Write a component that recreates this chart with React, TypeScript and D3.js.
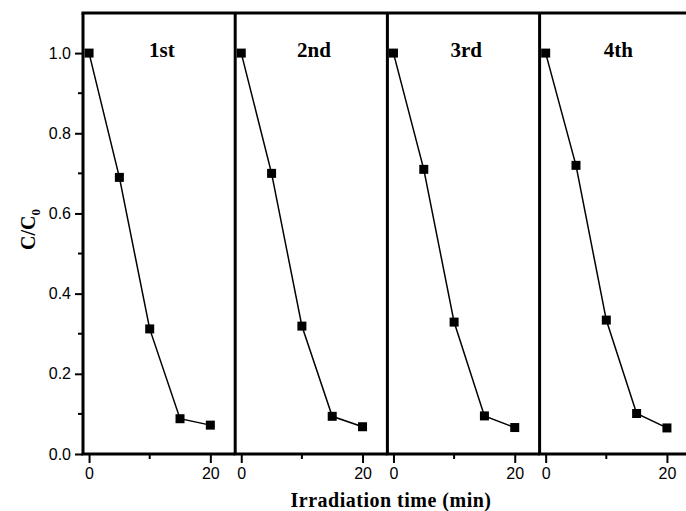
import React, { useEffect, useRef } from 'react';
import * as d3 from 'd3';

const times = [0, 5, 10, 15, 20];
const runLabels = ['1st', '2nd', '3rd', '4th'];
const run1 = [1.0, 0.69, 0.312, 0.088, 0.072];
const run2 = [1.0, 0.70, 0.319, 0.094, 0.068];
const run3 = [1.0, 0.71, 0.329, 0.095, 0.066];
const run4 = [1.0, 0.72, 0.334, 0.101, 0.065];
const runs = [run1, run2, run3, run4];
const yTicks = [0, 0.2, 0.4, 0.6, 0.8, 1.0];
const xTicks = [0, 20];

const App = () => {
  const ref = useRef<SVGSVGElement>(null);

  useEffect(() => {
    const width = 686;
    const height = 511;
    const margin = { top: 13, left: 83, bottom: 57 };
    const panelW = 152.2;
    const innerH = height - margin.top - margin.bottom;
    const sans = 'Liberation Sans, Arial, sans-serif';
    const serif = 'Liberation Serif, Times New Roman, serif';

    const svg = d3.select(ref.current);
    svg.selectAll('*').remove();

    const y = d3.scaleLinear().domain([0, 1.1]).range([margin.top + innerH, margin.top]);

    // left y axis
    const yAxis = svg.append('g')
      .attr('transform', `translate(${margin.left},0)`)
      .call(d3.axisLeft(y).tickValues(yTicks).tickFormat(d3.format('.1f')).tickSize(8).tickPadding(4));
    yAxis.select('.domain').remove();
    yAxis.selectAll('line').attr('stroke-width', 2);
    yAxis.selectAll('text')
      .attr('font-family', sans)
      .attr('font-size', 16)
      .attr('fill', '#000');
    // minor y ticks
    yAxis.selectAll('.minor')
      .data(d3.range(0.1, 1.1, 0.2))
      .enter().append('line')
      .attr('class', 'minor')
      .attr('x1', -5).attr('x2', 0)
      .attr('y1', d => y(d)).attr('y2', d => y(d))
      .attr('stroke', '#000').attr('stroke-width', 2);

    // top border
    svg.append('line')
      .attr('x1', margin.left - 1.5).attr('x2', width + 10)
      .attr('y1', y(1.1)).attr('y2', y(1.1))
      .attr('stroke', '#000').attr('stroke-width', 3);

    runs.forEach((vals, i) => {
      const x0 = margin.left + i * panelW;
      const x = d3.scaleLinear().domain([-1, 24.1]).range([x0, x0 + panelW]);
      const g = svg.append('g');

      // bottom axis
      const xAxis = g.append('g')
        .attr('transform', `translate(0,${y(0)})`)
        .call(d3.axisBottom(x).tickValues(xTicks).tickSize(9).tickPadding(5));
      xAxis.select('.domain').remove();
      xAxis.selectAll('line').attr('stroke-width', 2);
      xAxis.selectAll('text')
        .attr('font-family', sans)
        .attr('font-size', 16)
        .attr('fill', '#000');
      xAxis.append('line')
        .attr('x1', x(10)).attr('x2', x(10))
        .attr('y1', 0).attr('y2', 5)
        .attr('stroke', '#000').attr('stroke-width', 2);

      g.append('line')
        .attr('x1', x0 - 1.5).attr('x2', x0 + panelW)
        .attr('y1', y(0)).attr('y2', y(0))
        .attr('stroke', '#000').attr('stroke-width', 3);

      // panel left divider
      g.append('line')
        .attr('x1', x0).attr('x2', x0)
        .attr('y1', y(1.1)).attr('y2', y(0))
        .attr('stroke', '#000').attr('stroke-width', 3);

      const pts = times.map((t, k) => [t, vals[k]] as [number, number]);
      g.append('path')
        .datum(pts)
        .attr('d', d3.line<[number, number]>().x(d => x(d[0])).y(d => y(d[1])))
        .attr('fill', 'none')
        .attr('stroke', '#000')
        .attr('stroke-width', 1.5);

      g.selectAll('.pt')
        .data(pts)
        .enter().append('rect')
        .attr('class', 'pt')
        .attr('x', d => x(d[0]) - 4.5)
        .attr('y', d => y(d[1]) - 4.5)
        .attr('width', 9)
        .attr('height', 9)
        .attr('fill', '#000');

      g.append('text')
        .attr('x', x(12))
        .attr('y', y(1.0) + 4)
        .attr('text-anchor', 'middle')
        .attr('font-family', serif)
        .attr('font-weight', 'bold')
        .attr('font-size', 21)
        .text(runLabels[i]);
    });

    // axis titles
    svg.append('text')
      .attr('x', 391)
      .attr('y', 507)
      .attr('text-anchor', 'middle')
      .attr('font-family', serif)
      .attr('font-weight', 'bold')
      .attr('font-size', 20)
      .attr('letter-spacing', 0.5)
      .text('Irradiation time (min)');

    const yl = svg.append('text')
      .attr('transform', `translate(35,${y(0.56)}) rotate(-90)`)
      .attr('text-anchor', 'middle')
      .attr('font-family', serif)
      .attr('font-weight', 'bold')
      .attr('font-size', 20);
    yl.append('tspan').text('C/C');
    yl.append('tspan').attr('font-size', 13).attr('dy', 5).text('0');
  }, []);

  return (
    <svg ref={ref} width={686} height={511}
      style={{ position: 'absolute', left: 0, top: 0, background: '#fff' }} />
  );
};

export default App;
